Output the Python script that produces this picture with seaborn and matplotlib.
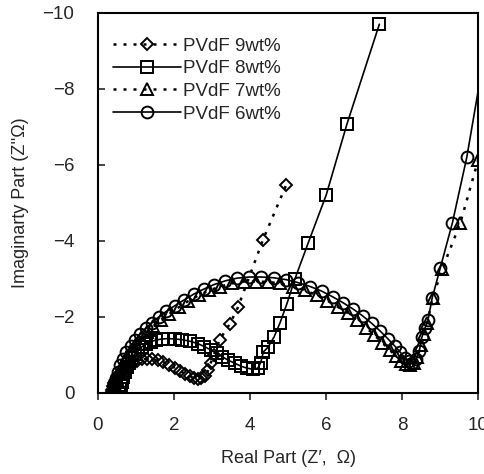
import numpy as np
import pandas as pd
import matplotlib
matplotlib.use("Agg")
import matplotlib.pyplot as plt
import seaborn as sns

# PVdF 9wt% (diamonds, dotted)
x9 = [0.35, 0.37, 0.4, 0.43, 0.47, 0.52, 0.58, 0.65, 0.73, 0.82, 0.92, 1.03, 1.15, 1.28,
      1.42, 1.57, 1.72, 1.87, 2.02, 2.17, 2.3, 2.42, 2.52, 2.62, 2.72, 2.82, 2.9, 2.97,
      3.05, 3.2, 3.47, 3.68, 4.34, 4.95]
y9 = [0, -0.08, -0.17, -0.26, -0.35, -0.44, -0.52, -0.6, -0.67, -0.74, -0.8, -0.85, -0.88, -0.9,
      -0.89, -0.86, -0.81, -0.74, -0.66, -0.57, -0.5, -0.44, -0.4, -0.38, -0.39, -0.45, -0.6, -0.8,
      -1.0, -1.4, -1.82, -2.25, -4.03, -5.47]

# PVdF 8wt% (squares, solid)
x8 = [0.55, 0.57, 0.6, 0.63, 0.67, 0.71, 0.76, 0.82, 0.89, 0.97, 1.06, 1.16, 1.27, 1.39,
      1.52, 1.68, 1.85, 2.03, 2.22, 2.42, 2.62, 2.8, 2.97, 3.12, 3.27, 3.43, 3.6, 3.77,
      3.93, 4.08, 4.2, 4.28, 4.35, 4.47, 4.63, 4.79, 4.97, 5.18, 5.53, 6.0, 6.55, 7.4]
y8 = [0, -0.1, -0.2, -0.3, -0.42, -0.55, -0.68, -0.8, -0.92, -1.03, -1.13, -1.22, -1.29, -1.35,
      -1.39, -1.42, -1.43, -1.42, -1.4, -1.36, -1.3, -1.22, -1.13, -1.04, -0.95, -0.86, -0.78, -0.7,
      -0.65, -0.62, -0.65, -0.8, -1.08, -1.2, -1.47, -1.85, -2.35, -3.0, -3.95, -5.2, -7.08, -9.7]

# PVdF 7wt% (triangles, dotted)
x7 = [0.4, 0.42, 0.45, 0.49, 0.54, 0.6, 0.68, 0.77, 0.88, 1.0, 1.13, 1.28, 1.45, 1.65,
      1.88, 2.12, 2.38, 2.65, 2.93, 3.22, 3.52, 3.83, 4.15, 4.47, 4.8, 5.13, 5.45, 5.75,
      6.03, 6.3, 6.57, 6.82, 7.05, 7.27, 7.48, 7.67, 7.84, 7.98, 8.1, 8.2, 8.3, 8.4,
      8.5, 8.58, 8.66, 8.8, 9.05, 9.53, 10.0, 10.4]
y7 = [0, -0.1, -0.22, -0.36, -0.5, -0.66, -0.82, -0.98, -1.14, -1.3, -1.45, -1.6, -1.75, -1.92,
      -2.08, -2.25, -2.42, -2.57, -2.7, -2.8, -2.88, -2.93, -2.93, -2.92, -2.88, -2.8, -2.7, -2.57,
      -2.43, -2.27, -2.1, -1.92, -1.72, -1.52, -1.32, -1.13, -0.97, -0.85, -0.77, -0.74, -0.78, -0.95,
      -1.25, -1.55, -1.85, -2.5, -3.25, -4.47, -6.13, -7.6]

# PVdF 6wt% (circles, solid)
x6 = [0.38, 0.4, 0.43, 0.47, 0.52, 0.58, 0.66, 0.75, 0.86, 0.98, 1.1, 1.25, 1.42, 1.6,
      1.8, 2.03, 2.27, 2.52, 2.78, 3.05, 3.35, 3.66, 3.98, 4.3, 4.62, 4.95, 5.27, 5.58,
      5.88, 6.17, 6.45, 6.72, 6.97, 7.2, 7.42, 7.62, 7.8, 7.95, 8.07, 8.17, 8.27, 8.37,
      8.45, 8.52, 8.6, 8.68, 8.79, 9.0, 9.32, 9.7, 10.35]
y6 = [0, -0.12, -0.25, -0.4, -0.56, -0.73, -0.9, -1.07, -1.24, -1.4, -1.55, -1.7, -1.85, -2.0,
      -2.15, -2.3, -2.45, -2.6, -2.73, -2.85, -2.95, -3.02, -3.05, -3.05, -3.03, -2.98, -2.9, -2.8,
      -2.68, -2.53, -2.37, -2.2, -2.02, -1.83, -1.63, -1.43, -1.24, -1.07, -0.93, -0.84, -0.8, -0.88,
      -1.1, -1.47, -1.7, -1.92, -2.5, -3.28, -4.47, -6.2, -10.0]

dots = (0, (1.2, 2.8))
series = [
    ("PVdF 9wt%", x9, y9, "D", dots, 6.5),
    ("PVdF 8wt%", x8, y8, "s", "-", 8.5),
    ("PVdF 7wt%", x7, y7, "^", dots, 8),
    ("PVdF 6wt%", x6, y6, "o", "-", 8.5),
]

sns.set_style("ticks")
plt.rcParams['font.family'] = ['Liberation Sans', 'DejaVu Sans']
plt.rcParams['axes.unicode_minus'] = True

fig = plt.figure(figsize=(4.85, 4.74), dpi=100)
ax = fig.add_axes([0.202, 0.171, 0.784, 0.802])

for name, xs, ys, mk, ls, ms in series:
    df = pd.DataFrame({"x": xs, "y": ys})
    lw = 1.8 if ls is dots else 1.2
    sns.lineplot(data=df, x="x", y="y", ax=ax, sort=False, estimator=None,
                 color="black", linestyle=ls, linewidth=lw, marker=mk,
                 markersize=ms, markerfacecolor="none", markeredgecolor="black",
                 markeredgewidth=1.4, label=name)

ax.set_xlim(0, 10)
ax.set_ylim(0, -10)
ax.set_xticks([0, 2, 4, 6, 8, 10])
ax.set_yticks([0, -2, -4, -6, -8, -10])
ax.tick_params(axis="x", direction="out", length=5, width=1.2, labelsize=13.5, pad=12)
ax.tick_params(axis="y", direction="in", length=5, width=1.2, labelsize=13.5, pad=17)
for sp in ax.spines.values():
    sp.set_linewidth(1.5)
    sp.set_color("black")

ax.set_xlabel("Real Part (Z\u2032,  \u03a9)", fontsize=13, labelpad=12)
ax.set_ylabel("Imaginarty Part (Z''\u03a9)", fontsize=13, labelpad=10)

ax.legend(loc="upper left", bbox_to_anchor=(0.02, 0.955), frameon=False, fontsize=13.5,
          handlelength=3.6, handletextpad=0.15, labelspacing=0.3, borderaxespad=0)

fig.savefig("out.png", dpi=100)
